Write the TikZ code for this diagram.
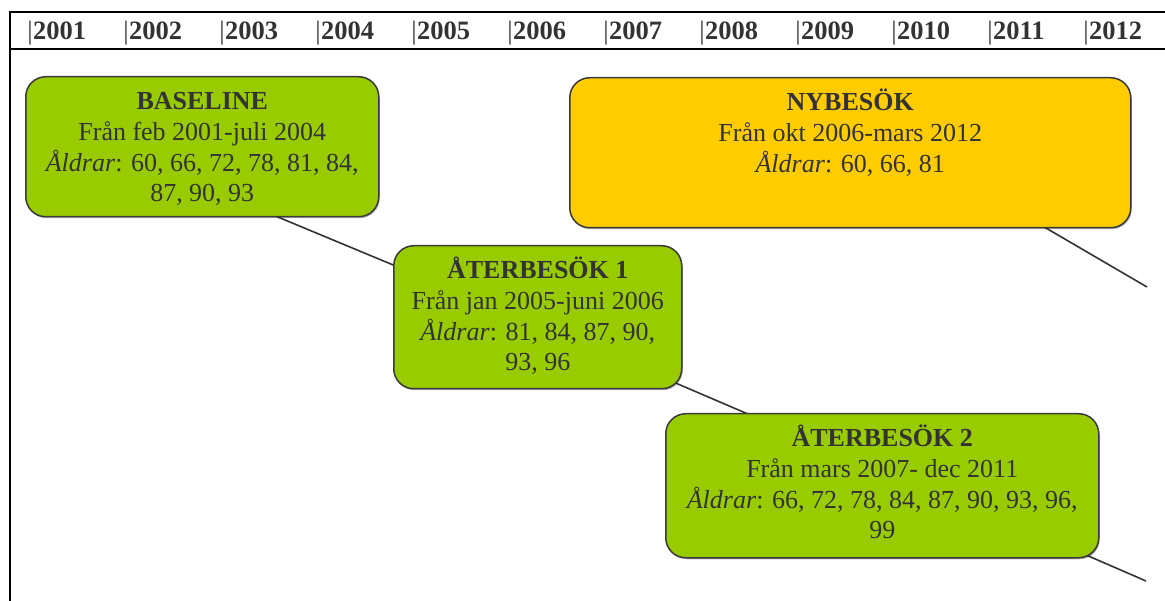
\documentclass[tikz,border=0pt]{standalone}
\usepackage{fontspec}
\setmainfont{Liberation Serif}
\usetikzlibrary{backgrounds,shadows}
\definecolor{txt}{HTML}{333333}
\definecolor{boxgreen}{HTML}{99CC00}
\definecolor{boxyellow}{HTML}{FFCC00}
\definecolor{edgegray}{HTML}{3A3A3A}
\definecolor{bargray}{HTML}{6E6E6E}
\newcommand{\boxcontent}[3]{\parbox[c][#2][t]{#1}{\centering\fontsize{26pt}{30.7pt}\selectfont\rule{0pt}{33pt}#3}}
\begin{document}
\begin{tikzpicture}[x=1pt,y=-1pt,
  box/.style={draw=edgegray, line width=1.5pt, rounded corners=20pt, inner sep=0pt,
    anchor=north west, text=txt,
    drop shadow={shadow xshift=1pt, shadow yshift=-1.5pt, opacity=0.3, fill=black}},
  conn/.style={draw=txt, line width=1.6pt},
  yearlbl/.style={anchor=base west, inner sep=0pt, text=txt,
    font=\fontsize{26.5pt}{30pt}\selectfont\bfseries},
  frame/.style={draw=black, line width=2pt}]
\useasboundingbox (0,0) rectangle (1165,601);
% frame
\draw[frame] (10,601) -- (10,12) -- (1165,12);
\draw[frame] (10,49) -- (1165,49);
% year labels
\foreach \yr [count=\i from 0] in {2001,...,2012}
  \node[yearlbl] (y\yr) at ({27+96*\i},40) {{\color{bargray}|}\yr};
% boxes
\node[box, fill=boxgreen] (base) at (25,76)
  {\boxcontent{353pt}{140pt}{\textbf{BASELINE}\\Från feb 2001-juli 2004\\\textit{Åldrar}: 60, 66, 72, 78, 81, 84,\\87, 90, 93}};
\node[box, fill=boxyellow] (ny) at (569,77)
  {\boxcontent{561pt}{150pt}{\textbf{NYBESÖK}\\Från okt 2006-mars 2012\\\textit{Åldrar}: 60, 66, 81}};
\node[box, fill=boxgreen] (ab1) at (393,245)
  {\boxcontent{288pt}{143pt}{\textbf{ÅTERBESÖK 1}\\Från jan 2005-juni 2006\\\textit{Åldrar}: 81, 84, 87, 90,\\93, 96}};
\node[box, fill=boxgreen] (ab2) at (665,413)
  {\boxcontent{433pt}{144pt}{\textbf{ÅTERBESÖK 2}\\Från mars 2007- dec 2011\\\textit{Åldrar}: 66, 72, 78, 84, 87, 90, 93, 96,\\99}};
\coordinate (nyend) at (1147,287);
\coordinate (abend) at (1146,581);
% connectors behind the boxes
\begin{scope}[on background layer]
\draw[conn] ([xshift=230pt,yshift=10pt]base.south west) -- ([xshift=17pt,yshift=-27pt]ab1.north west);
\draw[conn] ([xshift=-26pt,yshift=14.7pt]ab1.south east) -- ([xshift=105pt,yshift=-10.5pt]ab2.north west);
\draw[conn] ([xshift=-105pt,yshift=11.8pt]ny.south east) -- (nyend);
\draw[conn] ([xshift=-33pt,yshift=12pt]ab2.south east) -- (abend);
\end{scope}
\end{tikzpicture}
\end{document}
